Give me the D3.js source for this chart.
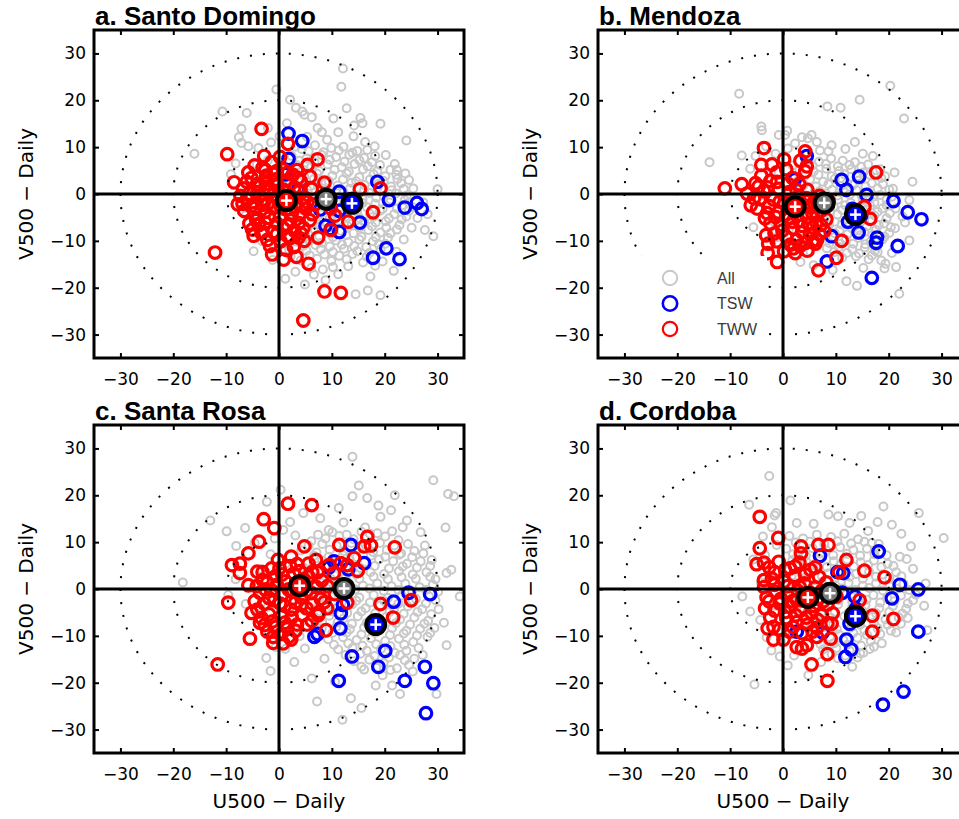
<!DOCTYPE html>
<html><head><meta charset="utf-8">
<script src="https://cdn.jsdelivr.net/npm/d3@7"></script>
<style>body{margin:0;background:#fff;overflow:hidden}</style>
</head><body>
<svg id="chart" width="959" height="819"></svg>
<script>
// ---------- DATA ----------
const ticks = [-30, -20, -10, 0, 10, 20, 30];
const tickLabels = ["\u221230", "\u221220", "\u221210", "0", "10", "20", "30"];
const ringRadii = [10, 20, 30];
const titles = ["a. Santo Domingo", "b. Mendoza", "c. Santa Rosa", "d. Cordoba"];
const seriesNames = ["All", "TSW", "TWW"];
const xLabel = "U500 \u2212 Daily";
const yLabel = "V500 \u2212 Daily";

// Panel a – Santo Domingo
const allA = [[12.1,26.8],[11.8,22.9],[12.8,18.3],[-0.5,22.3],[-10.7,17.6],[-6.1,17.3],[2.1,20.1],[3.2,18.4],[4.4,17.6],[4.8,16.9],[19.2,15],[24.1,11.4],[30,1],[7.3,14.1],[-16,8.6],[15.4,16.2],[14.2,14.6],[15.8,15.1],[29.2,-9],[27.6,-7.7],[19.2,-21.6],[16.8,-20.6],[14.5,-21.4],[4.9,-19.3],[3.1,-16.6],[21.7,-16.4],[23.6,-9.7],[23.9,4.4],[24.6,3],[21.9,6.4],[-7.1,13.9],[-7.6,12.1],[-7.1,10.9],[-5.8,10.2],[-3.9,9.8],[-2.1,14.1],[0.1,12.3],[-1.5,11],[-8.2,6.5],[-9.1,4.2],[-6.3,-4.6],[-4.8,-12.2],[-3.2,-10.1],[1.2,-18.1],[6.6,-17.2],[8.8,-18.4],[11.2,-17.1],[13.1,-15.4],[17.3,-17.6],[19.6,-14.4],[22.2,-12.3],[25.1,-7.2],[26.2,-5.1],[27.3,-1.8],[28.1,-4.3],[25.4,1.2],[22.3,5.1],[20.2,8.3],[18.1,10.2],[16.3,11.1],[14.1,12.3],[11.2,13.2],[9.1,11.6],[5.3,12.2],[3.1,10.1],
[4.3,9.6],[6.8,10.4],[9.9,9.8],[12.2,10.1],[14.8,9.2],[2.4,8.1],[5.2,7.6],[8.1,8.3],[10.8,7.9],[13.3,8.4],[16.1,7.7],[18.2,8.1],[3.3,6.2],[6.1,5.8],[9.2,6.3],[11.9,5.7],[14.3,6.4],[16.8,5.9],[19.1,6.2],[2.1,4.1],[4.8,3.7],[7.2,4.3],[10.1,3.9],[12.8,4.4],[15.2,3.6],[17.9,4.2],[20.1,3.8],[22.2,4.1],[3.2,2.1],[5.9,1.7],[8.8,2.3],[11.1,1.8],[13.7,2.4],[16.2,1.9],[18.9,2.2],[21.2,1.6],[23.1,2.3],[4.1,-0.2],[6.9,0.3],[9.8,-0.1],[12.2,0.4],[14.9,-0.3],[17.1,0.2],[19.8,-0.4],[22.1,0.1],[24.2,-0.3],[2.9,-2.2],[5.8,-1.8],[8.2,-2.3],[10.9,-1.7],[13.2,-2.4],[15.8,-1.9],[18.2,-2.1],[20.9,-1.8],[23.3,-2.4],[25.2,-2.8],[2.2,-4.1],[4.9,-3.7],[7.8,-4.3],[10.2,-3.9],[12.1,-4.4],[14.8,-3.8],[17.2,-4.2],[19.1,-3.6],[21.8,-4.3],[24.1,-4.8],[3.1,-6.2],[6.2,-5.8],[8.9,-6.3],[11.2,-5.7],[13.8,-6.4],[16.1,-5.9],[18.3,-6.1],[20.2,-5.8],[22.8,-6.6],[4.2,-8.1],[6.8,-7.8],[9.3,-8.3],[11.8,-7.9],[14.1,-8.4],[16.9,-7.7],[19.2,-8.2],[21.1,-8.4],[3.3,-10.2],[5.9,-9.8],[8.1,-10.4],[10.8,-9.9],[13.1,-10.3],[15.2,-9.7],[17.8,-10.1],[20.1,-10.6],[5.2,-12.1],[7.9,-11.8],[10.2,-12.4],[12.3,-11.7],[14.8,-12.2],[17.1,-12.6],[19.2,-11.8],[4.1,-14.2],[7.2,-13.8],[9.9,-14.3],[12.8,-13.9],[15.9,-14.6],[18.2,-15.3],[6.1,-15.8],[8.3,-16.1],[10.2,-15.6],[-2.1,7.2],[-1.2,5.1],[0.8,6.3],[-3.2,3.1],[-0.8,1.9],[1.2,3.4],[-1.8,-3.1],[0.9,-5.2],[-2.7,-6.8],[0.4,-9.1],[1.9,-11.8],[-1.2,-14.1],[2.2,-13.3],[8.1,13.2],[10.3,16.1],[6.2,16.4],[1.5,15.1],[-4.2,6.3],[-5.1,1.2],
[5.6,9.1],[8.4,8.9],[11.3,9.3],[13.9,8.8],[16.7,9.4],[3.9,7.1],[6.7,6.8],[9.6,7.3],[12.4,6.9],[15.2,7.2],[17.6,6.8],[4.6,5.1],[7.6,4.9],[10.5,5.2],[13.2,4.8],[15.9,5.3],[18.6,4.9],[21.1,5.2],[3.9,2.9],[6.6,3.2],[9.4,2.8],[12.1,3.1],[14.6,2.7],[17.2,3.1],[19.8,2.8],[22.4,3.2],[5.3,0.9],[8.2,1.2],[10.8,0.8],[13.4,1.1],[16.1,0.9],[18.6,1.3],[21.3,0.8],[23.6,1.1],[4.8,-1.1],[7.6,-0.8],[10.3,-1.2],[13.1,-0.9],[15.8,-1.1],[18.4,-0.8],[21.1,-1.2],[23.8,-1.3],[3.8,-3.1],[6.6,-2.9],[9.3,-3.2],[11.8,-2.8],[14.2,-3.1],[16.6,-2.8],[19.6,-3.2],[22.3,-3.1],[24.6,-3.6],[4.1,-5.1],[7.1,-4.9],[9.6,-5.2],[12.6,-4.8],[15.2,-5.1],[17.8,-4.9],[20.8,-5.2],[23.2,-5.4],[5.2,-7.1],[7.8,-6.9],[10.3,-7.2],[12.9,-6.8],[15.3,-7.1],[17.6,-6.9],[20.3,-7.2],[22.3,-7.6],[5.1,-9.1],[7.6,-8.9],[10.2,-9.2],[12.7,-8.8],[15.6,-9.1],[18.3,-9.2],[20.6,-9.4],[4.6,-11.1],[6.9,-10.9],[9.6,-11.2],[11.9,-10.8],[14.2,-11.1],[16.5,-11.3],[18.9,-10.8],[5.8,-13.1],[8.6,-12.9],[11.4,-13.2],[13.9,-12.8],[16.6,-13.4]];
const tswA = [[1.8,12.9],[4.4,11.3],[1.8,7.5],[18.6,2.6],[20.8,-1.3],[23.8,-2.9],[26.1,-1.9],[27,-3.2],[15.3,-6.1],[11.4,0.5],[11.4,-3.6],[7.8,-3.3],[9.8,-7.5],[11.4,-8.1],[17.8,-13.6],[20.3,-11.6],[22.8,-13.9],[13.5,-1.2],[9.6,-2.1],[1.2,4.2],[3.6,0.8],[8.8,-6.8]];
const twwA = [[-3.3,13.9],[-9.8,8.5],[-8.5,2.5],[1.7,10.7],[-12.1,-12.5],[-1.3,-12.9],[0.9,-14],[3.3,-13.4],[5.6,-14.9],[8.6,-20.8],[11.7,-21.1],[4.6,-27],[7.3,7.4],[5.4,6.2],[17.8,-3.9],[13.1,-5.9],[15.3,1],[19.2,1.2],[9.8,-7.7],[7.4,-9.3],[4.8,-10],[5.8,-5.6],[4.2,-8.4],[-3.3,-8.4],[-4.3,-5.6],
[-6.8,1.2],[-5.2,3.4],[-3.1,5.6],[-1.4,6.8],[-4.6,6.1],[0.8,5.2],[2.6,4.1],[4.1,2.8],[5.9,3.7],[-0.6,3.1],[-2.5,2.2],[-4.1,0.4],[-6.1,-1.1],[-7.3,-0.4],[-5.3,-2.6],[-3.2,-1.3],[-1.1,-0.2],[0.9,0.9],[2.9,1.4],[4.6,-0.8],[6.2,1.1],[6.8,-2.2],[5.1,-3.1],[3.1,-2.8],[1.3,-3.3],[-0.8,-2.6],[-2.6,-3.8],[-4.6,-4.1],[-5.6,-6.3],[-3.8,-6.6],[-1.9,-5.1],[0.2,-4.9],[2.2,-5.6],[3.8,-6.2],[2.9,-7.8],[0.8,-7.3],[-1.1,-8.1],[-2.2,-9.8],[0.3,-10.1],[2.1,-9.4],[-4.8,-8.9],[-3.6,1.6],[-2.1,0.6],[-0.3,1.8],[1.6,2.8],[3.4,5.1],[0.2,7.9],[-2.8,8.1],[-0.9,4.3],[-5.8,4.6],[-6.6,-3.6],[-7.8,-2.2],[1.8,-1.6],[3.9,-4.4],[6.3,-4.3],[-1.7,-11.1],[2.8,-11.3],[8.6,2.4],[9.8,-3.1],[10.6,-4.6],[-3.1,-2.3],[-0.2,-1.2],
[-6.1,2.6],[-4.2,2.1],[-2.4,3.9],[-0.4,4.9],[1.7,4.6],[3.6,3.4],[-5.6,0.1],[-3.7,-0.4],[-1.9,1.2],[0.1,0.3],[2.1,-0.2],[3.8,0.6],[5.4,-1.7],[-6.9,-2.1],[-4.4,-2.9],[-2.1,-2.1],[0.4,-2.8],[2.4,-4.1],[4.4,-2.3],[-4.1,-5.1],[-2.6,-6.1],[-0.4,-6.3],[1.6,-6.7],[4.6,-7.3],[-3.1,-8.1],[-0.4,-8.6],[1.6,-8.9],[3.7,-9.3],[-2.6,5.1],[-5.1,-7.6],[1.3,-11.9]];
const meanA = {all:[8.9,-1.1], tsw:[13.8,-2.0], tww:[1.4,-1.4]};

// Panel b – Mendoza
const allB = [[-8.3,21.4],[20.3,23.1],[14.5,20.1],[8.4,18.7],[10.9,18.4],[22.9,16.1],[-4.1,14.4],[-4,13.6],[0.8,13.5],[0.4,12.6],[-0.8,12.6],[3.6,12.1],[5.4,12.6],[4.7,11.9],[-13.9,6.8],[-7.8,8.2],[9.2,10.4],[8.6,9.1],[7,9.3],[13.6,11.1],[15.1,8.6],[17,8.1],[21.1,4.6],[24.5,2.6],[23.9,-1.3],[23.9,-9.9],[22,-21.3],[12,-18.6],[14,-19.6],[19.4,-14.9],[21.4,-15.6],[19.2,-15.9],[3.3,-14.5],[5.8,-15.2],[-5.2,8.1],[-6.2,5.4],[-3.2,10.2],[2.3,10.8],[6.4,11.1],[11.8,9.6],[18.4,5.3],[20.8,1.1],[22.6,-4.8],[21.2,-7.3],[17.9,-12.4],[15.2,-15.8],[9.4,-16.2],[1.3,-11.2],[-1.1,-9.2],[23.1,-6.1],
[4.2,7.3],[6.8,6.9],[9.1,7.6],[11.3,7.1],[13.6,6.8],[16.1,6.3],[3.1,5.2],[5.8,4.8],[8.2,5.4],[10.6,4.9],[12.9,5.3],[15.2,4.6],[17.6,5.1],[19.3,3.8],[2.8,2.9],[5.1,3.1],[7.6,2.6],[9.8,3.2],[12.1,2.4],[14.3,2.9],[16.8,2.3],[18.9,2.1],[2.1,0.8],[4.6,1.1],[6.9,0.6],[9.3,0.9],[11.6,0.4],[13.9,0.8],[16.2,0.3],[18.4,-0.2],[20.6,-0.6],[3.4,-1.4],[5.9,-1.1],[8.1,-1.6],[10.4,-1.2],[12.8,-1.9],[15.1,-1.3],[17.3,-1.8],[19.6,-2.4],[4.1,-3.6],[6.6,-3.2],[8.9,-3.8],[11.2,-3.4],[13.4,-3.9],[15.8,-3.3],[17.9,-3.8],[20.2,-4.1],[5.3,-5.6],[7.6,-5.2],[9.8,-5.9],[12.1,-5.4],[14.6,-6.1],[16.8,-5.7],[19.1,-6.3],[6.2,-7.6],[8.4,-7.2],[10.7,-7.8],[13.1,-7.4],[15.4,-8.1],[17.6,-7.7],[20.1,-8.3],[7.1,-9.6],[9.5,-9.3],[11.9,-9.8],[14.2,-9.4],[16.6,-10.1],[18.8,-9.7],[8.3,-11.6],[10.6,-11.3],[13.1,-11.8],[15.5,-11.4],[17.4,-12.1],[20.6,-12.6],[11.2,-13.6],[13.8,-13.3],[16.2,-13.9],[18.6,-14.2],[-1.4,8.6],[0.9,9.7],[1.8,6.1],[-2.3,4.4],[0.6,2.3],[-3.8,-1.9],[-1.9,-5.8],[1.1,-7.8],[3.6,-9.9],[5.2,-12.3],[-5.6,-7.1],
[5.6,6.1],[8.1,6.4],[10.4,5.9],[12.6,6.2],[14.8,5.8],[4.2,3.9],[6.7,4.1],[9.2,3.8],[11.6,4.2],[14.1,3.8],[16.4,4.1],[18.6,3.4],[3.9,1.9],[6.2,1.6],[8.6,2.1],[10.9,1.7],[13.2,1.9],[15.6,1.6],[17.9,1.2],[20.1,0.9],[5.6,-0.2],[8.1,0.1],[10.3,-0.3],[12.6,-0.1],[14.9,-0.4],[17.2,-0.6],[19.6,-1.2],[4.8,-2.6],[7.2,-2.3],[9.6,-2.7],[11.8,-2.4],[14.1,-2.8],[16.5,-2.5],[18.8,-3.1],[21.3,-3.1],[5.7,-4.5],[8.1,-4.6],[10.3,-4.4],[12.6,-4.7],[15.1,-4.9],[17.3,-4.6],[19.6,-5.2],[6.6,-6.4],[8.7,-6.6],[11.1,-6.5],[13.6,-6.8],[15.9,-6.9],[18.1,-6.6],[20.4,-7.1],[7.6,-8.5],[9.8,-8.4],[12.2,-8.6],[14.6,-8.8],[16.9,-8.8],[19.2,-9.1],[8.8,-10.5],[10.9,-10.6],[13.3,-10.6],[15.6,-10.7],[17.8,-11.2],[9.7,-12.4],[12.1,-12.6],[14.4,-12.7],[16.8,-13.1]];
const tswB = [[4.5,8.1],[11.1,3],[14.4,3.7],[15.8,-0.2],[12,0.9],[20.9,-1.5],[23.6,-3.9],[26.2,-5.4],[14.3,-8.2],[17.8,-9.3],[17.6,-10.4],[21.7,-11.1],[9.2,-9],[8.3,-14.4],[16.8,-17.9],[12.3,-5.9],[2.2,3.1],[14.8,-4.6],[13.1,-3.2]];
const twwB = [[-3.6,9.8],[4.2,9.1],[-4.1,6.2],[-11,1.2],[-6.8,0.1],[17.6,4.6],[16.5,-5.3],[15.4,-2.7],[11.1,-10],[10.1,-13.6],[6.7,-16.3],[-2.9,-12.6],[-1.1,-14.5],[4.2,4.8],[4.5,5.9],[2,-11.6],[6.1,-10.6],[6.4,-9.9],[-5.2,2.3],[-5.5,-0.9],[-4.9,-3.1],[-3,-4.1],[-2.4,-6.3],
[-1.2,4.6],[0.6,5.3],[1.8,3.4],[3.1,2.1],[-2.4,2.8],[-0.8,1.1],[1.2,0.4],[2.9,-0.6],[4.6,0.9],[5.8,-1.8],[6.9,-0.4],[-3.6,0.6],[-1.8,-1.2],[0.3,-2.1],[2.1,-3.4],[3.9,-2.7],[5.6,-4.2],[7.2,-3.6],[-0.9,-3.9],[1.2,-5.1],[3.1,-5.8],[4.8,-6.4],[6.3,-6.1],[-0.4,-6.6],[1.9,-7.3],[3.6,-8.1],[5.1,-8.6],[0.6,-9.1],[2.6,-9.8],[4.3,-10.4],[-1.6,-8.4],[7.8,-7.9],[8.6,-1.4],[-6.1,-2.4],[-7.8,2.1],[-3.2,-8.8],[-4.1,3.9],[0.2,7.4],[3.3,7.1],[-2.1,6.3],
[-4.6,1.6],[-2.9,1.4],[-1.1,2.6],[0.9,2.2],[2.6,0.8],[4.4,-0.9],[-4.4,-1.1],[-2.6,-2.6],[-0.6,-1.6],[1.4,-1.4],[3.2,-1.6],[5.2,-2.9],[6.6,-2.3],[-3.4,-5.2],[-1.4,-4.9],[0.6,-4.4],[2.6,-4.6],[4.3,-4.2],[6.4,-4.6],[-0.1,-7.8],[1.8,-5.9],[3.6,-6.8],[5.6,-7.1],[7.2,-6.6],[-1.2,-10.1],[1.4,-10.8],[3.2,-11.1],[5.6,-10.1],[6.9,-8.6],[2.3,-12.6],[4.6,-12.1],[8.2,-5.4],[-2.8,-10.6],[0.2,-12.2]];
const meanB = {all:[7.8,-1.9], tsw:[13.7,-4.4], tww:[2.3,-2.7]};

// Panel c – Santa Rosa
const allC = [[13.9,28.2],[29.2,23.2],[32,20.3],[33.1,19.8],[15.1,22.1],[13.9,19.8],[16.7,19.4],[18.8,17.8],[21.9,20],[31.5,13.1],[0.3,21.2],[-2.3,18.6],[-13,14.6],[-9.9,12.3],[-6.4,13],[-18.2,1.4],[11.3,17.3],[34.2,-1.6],[31.7,3.4],[32.6,4.1],[31.7,-12],[29.8,-22.4],[22.9,-22.4],[21.4,-20.6],[18.3,-20.6],[15.6,-25.4],[13.6,-23.3],[12,-27.9],[7.2,-24],[-1.6,-17.5],[-2.4,-14.7],[4.9,-12.7],[8.6,-14.9],
[-8.1,9.2],[-9.6,-1.3],[-6.3,-3.2],[-4.1,-5.4],[-8.2,2.1],[-0.8,10.8],[2.1,14.3],[4.6,16.2],[7.8,15.1],[9.4,12.6],[24.2,14.6],[26.8,12.1],[27.6,9.3],[28.9,6.2],[29.6,2.1],[30.2,-4.3],[31.2,-7.2],[28.1,-10.2],[27.2,-14.1],[25.3,-17.6],[24.1,-13.2],[19.6,-18.4],[16.1,-17.2],[10.6,-19.8],[6.2,-19.1],[2.9,-15.6],[1.2,-12.8],[19.2,15.4],[21.2,16.8],[23.4,13.2],[12.2,14.2],[16.3,13.1],
[6.1,10.2],[8.8,10.8],[11.4,11.3],[14.1,10.6],[17.2,11.8],[20.1,11.2],[22.6,10.4],[4.2,8.2],[7.1,7.8],[9.6,8.4],[12.3,8.1],[15.1,8.6],[17.8,7.9],[20.4,8.3],[23.1,7.6],[25.6,8.1],[5.3,5.8],[8.2,6.1],[10.8,5.6],[13.4,6.2],[16.2,5.7],[18.9,6.3],[21.6,5.9],[24.2,5.4],[26.8,5.9],[3.6,3.4],[6.4,3.8],[9.1,3.2],[11.8,3.7],[14.6,3.1],[17.3,3.6],[19.9,3.2],[22.7,3.8],[25.3,3.1],[27.9,3.6],[5.2,1.1],[7.9,1.4],[10.6,0.8],[13.2,1.3],[15.9,0.7],[18.6,1.2],[21.3,0.6],[23.9,1.1],[26.6,0.4],[29.1,0.9],[4.4,-1.4],[7.1,-1.1],[9.8,-1.6],[12.6,-1.2],[15.2,-1.8],[17.9,-1.3],[20.6,-1.9],[23.2,-1.4],[25.9,-2.1],[28.4,-1.6],[5.6,-3.8],[8.3,-3.4],[11.1,-3.9],[13.8,-3.3],[16.4,-4.1],[19.1,-3.6],[21.8,-4.2],[24.4,-3.7],[27.1,-4.3],[6.8,-6.1],[9.5,-5.7],[12.2,-6.3],[14.9,-5.8],[17.6,-6.4],[20.3,-5.9],[22.9,-6.5],[25.6,-6.1],[28.2,-6.8],[8.1,-8.4],[10.8,-8.1],[13.4,-8.6],[16.1,-8.2],[18.8,-8.8],[21.4,-8.3],[24.1,-8.9],[26.7,-8.5],[9.3,-10.7],[12.1,-10.3],[14.7,-10.9],[17.4,-10.5],[20.1,-11.1],[22.7,-10.6],[25.4,-11.3],[11.2,-12.9],[13.9,-12.6],[16.6,-13.2],[19.3,-12.8],[21.9,-13.6],[23.8,-15.2],[14.2,-15.4],[17.1,-15.1],[19.8,-15.8],[22.3,-16.9],[1.2,5.3],[-1.6,7.4],[0.8,12.6],[-3.3,4.2],[-2.1,-3.8],[1.3,-8.2],[3.9,-10.1],[-0.6,-12.4],[3.1,11.4],[-4.6,9.8],
[7.4,11.6],[10.1,12.1],[12.8,11.6],[15.6,12.2],[18.6,11.9],[21.4,12.3],[5.6,9.3],[8.2,9.6],[10.9,9.2],[13.7,9.8],[16.4,9.4],[19.1,9.8],[21.8,9.3],[24.4,9.6],[6.6,7.1],[9.4,6.9],[12.1,7.2],[14.7,6.8],[17.4,7.1],[20.1,6.9],[22.8,7.3],[25.2,6.8],[27.3,7.6],[4.6,4.6],[7.3,4.9],[10.1,4.4],[12.7,4.8],[15.4,4.5],[18.1,4.9],[20.8,4.4],[23.4,4.8],[26.1,4.6],[28.6,4.9],[4.4,2.3],[7.2,2.6],[9.9,2.1],[12.6,2.5],[15.2,2.2],[17.9,2.6],[20.6,2.1],[23.2,2.5],[25.9,2.2],[28.6,2.6],[6.2,-0.1],[8.9,0.2],[11.7,-0.3],[14.4,-0.1],[17.1,0.1],[19.8,-0.4],[22.6,-0.2],[25.2,-0.5],[27.8,-0.2],[30.1,-0.6],[6.4,-2.6],[9.1,-2.3],[11.9,-2.8],[14.6,-2.5],[17.2,-2.9],[19.9,-2.6],[22.6,-3.1],[25.2,-2.7],[27.8,-3.1],[29.6,-2.4],[7.3,-4.9],[10.2,-4.8],[12.9,-5.1],[15.6,-4.8],[18.2,-5.2],[20.9,-4.9],[23.6,-5.3],[26.2,-4.9],[28.8,-5.4],[8.2,-7.2],[11.1,-7.1],[13.8,-7.4],[16.6,-7.2],[19.3,-7.6],[22.1,-7.3],[24.8,-7.6],[27.5,-7.4],[29.4,-8.3],[10.1,-9.4],[12.8,-9.3],[15.6,-9.7],[18.2,-9.4],[21,-9.8],[23.6,-9.5],[26.1,-9.9],[28.6,-9.4],[10.4,-11.9],[13.1,-11.6],[15.8,-12.1],[18.4,-11.8],[21.1,-12.2],[23.7,-11.9],[26.4,-12.6],[12.6,-14.1],[15.4,-13.8],[18.1,-14.3],[20.8,-14.6],[22.9,-14.1],[25.6,-14.9],[15.6,-16.6],[18.4,-16.8],[21.1,-17.3],[24.6,-16.2]];
const tswC = [[13.6,9.4],[16.1,5.5],[10.4,5.9],[24.5,-0.8],[28.6,-1.1],[21.7,-2.7],[11.7,-5.2],[11.6,-8.4],[6.7,-10.2],[7.3,-9.6],[13.8,-14.4],[20.1,-13.2],[18.8,-16.6],[11.3,-19.6],[23.8,-19.6],[27.6,-16.6],[29.2,-20.1],[27.8,-26.5],[9.4,4.6],[13.1,4.2],[12.1,-3.4]];
const twwC = [[1.7,18.2],[6.2,17.9],[-2.9,14.9],[-0.9,13],[-3.8,10.1],[-5.8,7.6],[-8.9,5.1],[-7.4,5.4],[-7.4,3.4],[-4.1,3.7],[-9.6,-2.9],[-11.6,-16.1],[-5.5,-10.6],[-3.6,-7.2],[-2.7,-7.7],[-1.1,-10.2],[-1.1,-11.5],[0.8,-11.6],[2.3,-10.8],[8.9,-8.8],[7.6,-4.9],[9.1,-4.1],[11.4,9.4],[16.7,11.1],[17.4,9.3],[16.1,9.1],[21.9,8.9],[14.2,6.6],[14.9,3.9],[12.9,5.1],[12.9,-2.9],[19.2,-3.2],[21.6,-6.1],[25,-2.4],[4.8,9.1],[2.3,6.9],[-0.2,6.2],[7,6.2],[9.5,5.1],[11.7,5.5],[10.4,3.4],
[-2.2,1.4],[-0.6,2.8],[1.2,1.6],[2.8,3.3],[4.6,2.1],[6.3,3.6],[8.1,1.8],[-3.6,-0.8],[-1.4,-0.3],[0.6,-1.2],[2.4,-0.6],[4.2,-1.8],[6.1,-0.9],[7.9,-2.1],[-2.8,-3.1],[-0.9,-2.4],[1.1,-3.6],[3.1,-2.9],[5.2,-4.1],[-1.9,-5.4],[0.4,-5.8],[2.4,-6.1],[4.4,-5.6],[6.2,-6.8],[-0.6,-8.1],[1.6,-8.4],[3.4,-7.6],[-4.6,-2.6],[-5.2,-5.1],[-3.1,1.9],[0.1,4.4],[3.4,5.3],[5.6,5.4],[-5.8,0.8],[1.9,-10.2],[10.6,-1.1],
[-3.1,3.6],[-1.4,4.4],[0.6,3.1],[2.1,4.9],[3.9,3.8],[5.6,2.6],[7.3,3.6],[-4.2,0.6],[-2.6,-0.1],[-0.4,0.9],[1.8,-0.1],[3.4,-0.4],[5.3,-0.3],[7.1,0.4],[9.2,0.6],[-4.1,-4.4],[-1.9,-1.9],[0.2,-3.1],[2.3,-4.4],[4.2,-3.4],[6.3,-3.1],[-3.3,-6.2],[-1.2,-6.9],[1.1,-7.2],[3.1,-8.9],[5.3,-7.6],[-2.2,-9.1],[0.4,-9.6],[7.4,-5.6],[8.6,-2.8]];
const meanC = {all:[12.3,0.1], tsw:[18.3,-7.6], tww:[3.9,0.7]};

// Panel d – Cordoba
const allD = [[-2.6,24.1],[-6.4,18],[-1.6,15.7],[-1.3,16.2],[1.4,18.9],[19,17.6],[25.7,16.2],[30.4,10.9],[17.9,14.3],[20.6,13.7],[14.8,15.6],[8.6,15.9],[10.4,15.5],[-7.7,-1.6],[-5.4,-20.4],[0.9,-16.3],[4.8,-18.4],[13.1,-16.6],[27.3,-8.8],[26.7,-3.6],[27,1.2],[23.4,6.4],[22.1,6.9],
[-6.2,-4.8],[-4.3,-6.6],[-3.1,-10.3],[-2.2,-13.1],[-0.6,-14.4],[2.1,-14.2],[7.2,-15.6],[10.4,-14.8],[14.6,-13.7],[-5.6,6.3],[-3.8,11.2],[-2.1,13.2],[2.6,14.1],[5.8,13.9],[12.6,14.1],[16.1,12.4],[22.4,11.8],[24.6,4.3],[25.1,-1.2],[23.6,-6.2],[21.4,-9.3],[18.7,-11.6],[16.4,-12.8],[24.2,9.1],
[1.2,11.3],[3.8,10.8],[6.4,11.6],[9.1,11.1],[11.6,11.8],[14.2,10.6],[16.8,9.8],[0.6,8.6],[3.1,8.1],[5.6,8.7],[8.2,8.2],[10.8,8.9],[13.3,8.3],[15.9,8.6],[18.4,7.9],[1.8,6.2],[4.4,5.8],[6.9,6.4],[9.6,5.9],[12.1,6.3],[14.7,5.7],[17.2,6.1],[19.8,5.4],[0.9,3.8],[3.4,3.4],[6.1,3.9],[8.6,3.3],[11.2,3.8],[13.8,3.2],[16.3,3.7],[18.9,3.1],[21.4,3.6],[2.1,1.3],[4.7,0.9],[7.3,1.4],[9.9,0.8],[12.4,1.3],[15.1,0.7],[17.6,1.2],[20.2,0.6],[22.8,1.1],[1.4,-1.3],[3.9,-1.6],[6.6,-1.1],[9.2,-1.7],[11.8,-1.2],[14.4,-1.8],[17.1,-1.3],[19.7,-1.9],[22.3,-1.4],[24.6,-2.4],[2.6,-3.8],[5.2,-3.4],[7.8,-3.9],[10.4,-3.3],[13.1,-3.9],[15.6,-3.4],[18.2,-4.1],[20.8,-3.6],[23.3,-4.2],[3.8,-6.1],[6.4,-5.7],[9.1,-6.2],[11.6,-5.8],[14.3,-6.4],[16.9,-5.9],[19.4,-6.5],[21.9,-6.1],[5.1,-8.4],[7.7,-8.1],[10.2,-8.6],[12.8,-8.2],[15.4,-8.8],[17.9,-8.4],[20.4,-8.9],[6.3,-10.7],[8.9,-10.3],[11.4,-10.9],[14.1,-10.4],[16.6,-11.1],[7.6,-12.9],[10.1,-12.6],[12.6,-13.2],[15.2,-13.6],[-1.2,9.4],[-3.4,7.2],[-2.6,3.1],[-4.2,1.4],[-1.4,-3.6],[0.6,-6.8],[1.9,-9.6],[-0.4,-11.3],[3.6,-12.4],
[2.4,9.9],[5.1,10.1],[7.8,9.6],[10.3,10.2],[12.9,9.7],[15.4,10.1],[18.1,9.6],[1.9,7.4],[4.3,7.1],[7.1,7.6],[9.5,7.2],[12.1,7.5],[14.6,7.1],[17.3,7.4],[19.6,7.2],[3.1,4.9],[5.7,5.1],[8.3,4.7],[10.9,5.2],[13.4,4.8],[16.1,5.1],[18.6,4.7],[20.9,4.9],[1.6,2.6],[4.1,2.3],[7.4,2.7],[9.8,2.2],[12.6,2.6],[15.1,2.2],[17.6,2.6],[20.1,2.3],[22.4,2.7],[3.4,-0.1],[6.1,0.2],[8.6,-0.3],[11.1,0.1],[13.7,-0.2],[16.3,0.2],[18.9,-0.3],[21.4,0.1],[23.9,-0.2],[2.8,-2.6],[5.4,-2.3],[8.1,-2.8],[10.6,-2.4],[13.1,-2.7],[15.8,-2.3],[18.4,-2.9],[21.1,-2.6],[23.6,-3.1],[2.1,-5.1],[4.6,-4.8],[7.2,-5.2],[9.8,-4.9],[12.4,-5.1],[15.1,-4.8],[17.6,-5.2],[20.1,-4.9],[22.6,-5.3],[4.4,-7.3],[6.9,-7.1],[9.5,-7.5],[12.1,-7.2],[14.6,-7.6],[17.2,-7.2],[19.8,-7.6],[22.3,-7.4],[5.4,-9.5],[8.1,-9.3],[10.6,-9.7],[13.3,-9.4],[15.9,-9.8],[18.4,-9.6],[7.1,-11.8],[9.6,-11.6],[12.2,-11.9],[14.8,-12.1],[17.2,-12.3],[9.2,-13.9],[11.8,-14.2],[14.1,-14.6]];
const tswD = [[18.1,8],[10.3,3.6],[11.4,3.4],[7,7.1],[22.1,0.9],[25.6,-0.1],[20.6,-2],[13.6,-1.6],[25.6,-9.1],[12,-10.8],[12.9,-12.9],[11.8,-14.5],[7.5,-9.3],[2.6,-9.1],[18.9,-24.7],[22.8,-21.9],[12.6,-7.4],[13.8,-4.2],[11.2,-0.8]];
const twwD = [[-4.4,15.4],[-0.9,10.9],[-4.4,8.7],[-5,5.3],[-3.6,1.9],[-3.4,-4.1],[-1.8,-8.1],[-1.8,-10.8],[0.1,-10.8],[3.4,9.1],[3.4,7.6],[6.7,9.4],[8.6,9.4],[12,6.2],[15.4,3.9],[19.2,2.5],[20.9,-6.4],[16.9,-5.7],[16.9,-9.1],[14.5,-2.4],[9,-10.6],[8.4,-13.9],[5.4,-16.1],[8.4,-19.6],[2.6,-12.4],[3.6,-12.7],[4.5,-12],
[-2.6,4.6],[-0.8,5.8],[1.3,4.4],[3.1,5.6],[5.2,4.1],[6.8,2.6],[-2.1,2.2],[0.2,1.6],[2.2,2.8],[4.1,1.2],[6.1,0.3],[8.2,1.4],[-1.4,-0.6],[0.8,-1.1],[2.8,-0.4],[4.6,-2.6],[6.6,-2.1],[8.4,-3.3],[-0.6,-3.1],[1.4,-3.8],[3.3,-4.6],[5.4,-5.1],[7.3,-5.6],[9.4,-5.2],[0.6,-6.2],[2.6,-7.1],[4.6,-7.6],[6.4,-8.3],[-2.4,-6.1],[1.2,-9.1],[10.1,-1.6],[10.6,3.6],[6.4,-10.2],[-3.1,-1.8],
[-3.6,5.6],[-1.6,3.6],[0.4,4.1],[2.3,4.8],[4.2,3.1],[6.1,4.6],[-3.6,0.4],[-1.6,0.9],[0.9,0.6],[3.2,0.4],[5.1,-0.8],[7.3,-0.4],[-2.6,-2.6],[-0.4,-2.1],[1.8,-2.6],[3.6,-2.4],[5.8,-3.6],[7.6,-2.6],[-1.6,-4.6],[0.4,-4.9],[2.4,-5.6],[4.4,-6.1],[6.6,-6.6],[8.4,-7.3],[-0.6,-8.6],[1.9,-8.1],[3.6,-9.4],[5.6,-9.1],[-2.9,-8.4],[2.6,-2.4],[9.2,-7.4]];
const meanD = {all:[8.9,-0.9], tsw:[13.7,-5.8], tww:[4.7,-1.8]};

// ---------- LAYOUT / STYLE ----------
const colors = {all:"#c8c8c8", tsw:"#0000ff", tww:"#ff0000"};
const meanFill = {all:"#7a7a7a", tsw:"#0000ff", tww:"#ff0000"};
const PW = 370, PH = 328;
const panels = [
  {left:94,  top:30,  title:titles[0], all:allA, tsw:tswA, tww:twwA, mean:meanA, xlab:false},
  {left:598, top:30,  title:titles[1], all:allB, tsw:tswB, tww:twwB, mean:meanB, xlab:false, legend:true},
  {left:94,  top:425, title:titles[2], all:allC, tsw:tswC, tww:twwC, mean:meanC, xlab:true},
  {left:598, top:425, title:titles[3], all:allD, tsw:tswD, tww:twwD, mean:meanD, xlab:true}
];
const tickFont = "'DejaVu Sans', sans-serif";

const svg = d3.select("#chart");
const x = d3.scaleLinear().domain([-35, 35]).range([0, PW]);
const y = d3.scaleLinear().domain([-35, 35]).range([PH, 0]);

panels.forEach((p, i) => {
  const g = svg.append("g").attr("transform", `translate(${p.left},${p.top})`);
  const clipId = "clip" + i;
  g.append("clipPath").attr("id", clipId).append("rect").attr("width", PW).attr("height", PH);
  const plot = g.append("g").attr("clip-path", `url(#${clipId})`);

  // scatter
  plot.append("g").selectAll("circle").data(p.all).join("circle")
    .attr("cx", d => x(d[0])).attr("cy", d => y(d[1])).attr("r", 4)
    .attr("fill", "none").attr("stroke", colors.all).attr("stroke-width", 2);
  plot.append("g").selectAll("circle").data(p.tsw).join("circle")
    .attr("cx", d => x(d[0])).attr("cy", d => y(d[1])).attr("r", 5.8)
    .attr("fill", "none").attr("stroke", colors.tsw).attr("stroke-width", 3.2);
  plot.append("g").selectAll("circle").data(p.tww).join("circle")
    .attr("cx", d => x(d[0])).attr("cy", d => y(d[1])).attr("r", 5.8)
    .attr("fill", "none").attr("stroke", colors.tww).attr("stroke-width", 3.2);

  // dotted rings
  plot.append("g").selectAll("ellipse").data(ringRadii).join("ellipse")
    .attr("cx", x(0)).attr("cy", y(0))
    .attr("rx", r => x(r) - x(0)).attr("ry", r => y(0) - y(r))
    .attr("fill", "none").attr("stroke", "#000").attr("stroke-width", 2)
    .attr("stroke-dasharray", "2 11");

  // zero lines
  plot.append("line").attr("x1", 0).attr("x2", PW).attr("y1", y(0)).attr("y2", y(0))
    .attr("stroke", "#000").attr("stroke-width", 3);
  plot.append("line").attr("x1", x(0)).attr("x2", x(0)).attr("y1", 0).attr("y2", PH)
    .attr("stroke", "#000").attr("stroke-width", 3);

  // means
  ["tww", "all", "tsw"].forEach(k => {
    const m = p.mean[k];
    const mg = plot.append("g").attr("transform", `translate(${x(m[0])},${y(m[1])})`);
    mg.append("circle").attr("r", 9.5).attr("fill", meanFill[k]).attr("stroke", "#000").attr("stroke-width", 4);
    mg.append("line").attr("x1", -5.5).attr("x2", 5.5).attr("stroke", "#fff").attr("stroke-width", 2.5);
    mg.append("line").attr("y1", -5.5).attr("y2", 5.5).attr("stroke", "#fff").attr("stroke-width", 2.5);
  });

  // legend (white box hides the rings behind it)
  if (p.legend) {
    const lg = g.append("g");
    const keys = ["all", "tsw", "tww"];
    const lw = {all:2, tsw:2.6, tww:2.2};
    lg.append("rect").attr("x", 3).attr("y", 226).attr("width", 166).attr("height", 99).attr("fill", "#fff");
    keys.forEach((k, j) => {
      const cy = 248 + j * 25.5;
      lg.append("circle").attr("cx", 72).attr("cy", cy).attr("r", 7.2)
        .attr("fill", "none").attr("stroke", colors[k]).attr("stroke-width", lw[k]);
      lg.append("text").attr("x", 119).attr("y", cy).attr("dy", "0.36em").text(seriesNames[j])
        .attr("font-family", "'Liberation Sans', Arial, sans-serif").attr("font-size", 16).attr("fill", "#3a3a3a");
    });
  }

  // axes
  const fmt = (d) => tickLabels[ticks.indexOf(d)];
  const axB = g.append("g").attr("transform", `translate(0,${PH})`)
    .call(d3.axisBottom(x).tickValues(ticks).tickFormat(fmt).tickSizeInner(-5).tickSizeOuter(0).tickPadding(15));
  const axL = g.append("g")
    .call(d3.axisLeft(y).tickValues(ticks).tickFormat(fmt).tickSizeInner(-5).tickSizeOuter(0).tickPadding(8));
  const axT = g.append("g")
    .call(d3.axisTop(x).tickValues(ticks).tickFormat("").tickSizeInner(-5).tickSizeOuter(0));
  const axR = g.append("g").attr("transform", `translate(${PW},0)`)
    .call(d3.axisRight(y).tickValues(ticks).tickFormat("").tickSizeInner(-5).tickSizeOuter(0));
  [axB, axL, axT, axR].forEach(a => {
    a.select(".domain").remove();
    a.selectAll(".tick line").attr("stroke", "#000").attr("stroke-width", 2);
    a.selectAll("text").attr("font-family", tickFont).attr("font-size", 17).attr("fill", "#000");
  });

  // border
  g.append("rect").attr("width", PW).attr("height", PH)
    .attr("fill", "none").attr("stroke", "#000").attr("stroke-width", 3);

  // title
  g.append("text").attr("x", 1).attr("y", -5).text(p.title)
    .attr("font-family", "'Liberation Sans', Arial, sans-serif").attr("font-weight", "bold")
    .attr("font-size", 26).attr("fill", "#000");

  // y label
  g.append("text").attr("transform", `translate(-61,${PH / 2}) rotate(-90)`)
    .attr("text-anchor", "middle").text(yLabel)
    .attr("font-family", tickFont).attr("font-size", 20).attr("fill", "#000");

  if (p.xlab) {
    g.append("text").attr("x", PW / 2).attr("y", PH + 55).attr("text-anchor", "middle").text(xLabel)
      .attr("font-family", tickFont).attr("font-size", 20).attr("fill", "#000");
  }
});
</script>
</body></html>
